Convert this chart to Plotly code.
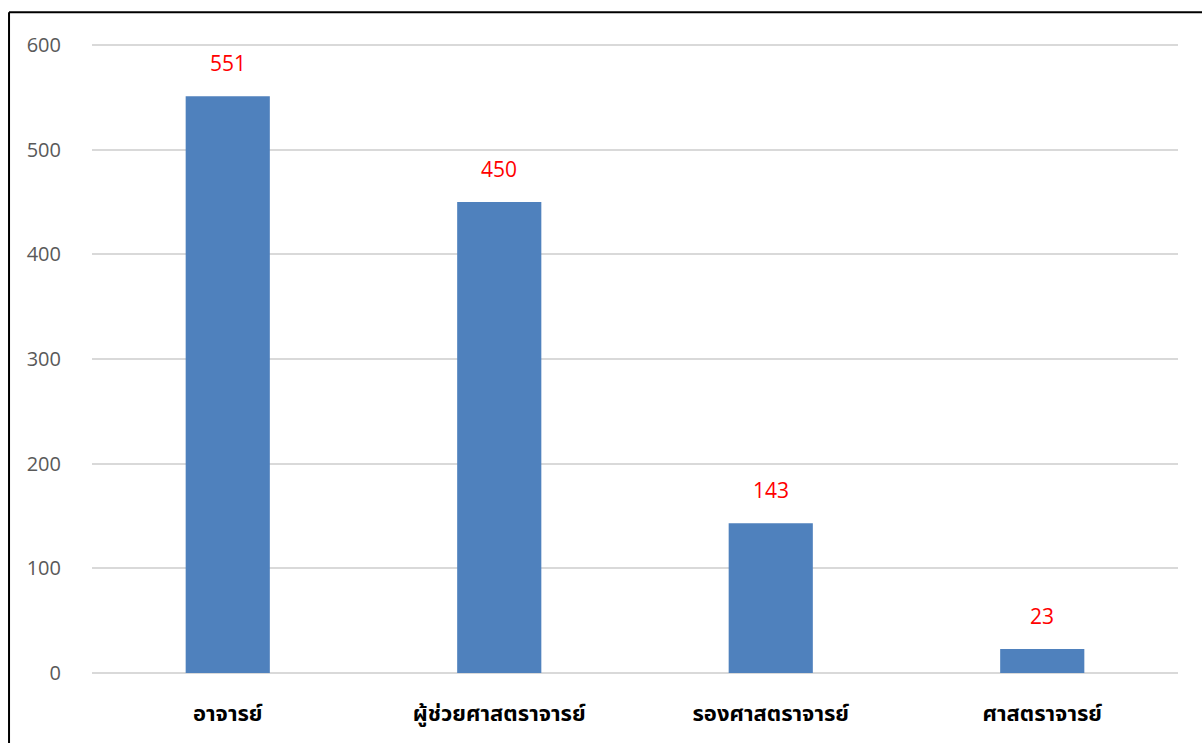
import plotly.graph_objects as go

categories = ["อาจารย์", "ผู้ช่วยศาสตราจารย์", "รองศาสตราจารย์", "ศาสตราจารย์"]
values = [551, 450, 143, 23]
y_ticks = [0, 100, 200, 300, 400, 500, 600]

fig = go.Figure()
fig.add_trace(go.Bar(x=categories, y=values, marker=dict(color="#4F81BD", line=dict(width=0)),
                     hoverinfo="skip"))

for c, v in zip(categories, values):
    fig.add_annotation(x=c, y=v, text=str(v), showarrow=False, yshift=33,
                       font=dict(color="#FF0000", size=21, family="Open Sans, sans-serif"))

# outer border (left and top edges)
fig.add_shape(type="line", xref="paper", yref="paper", x0=-0.0764, x1=-0.0764, y0=-0.12, y1=1.0505,
              line=dict(color="black", width=2))
fig.add_shape(type="line", xref="paper", yref="paper", x0=-0.0764, x1=1.05, y0=1.0505, y1=1.0505,
              line=dict(color="black", width=2))

fig.update_layout(
    width=1202, height=743,
    margin=dict(l=92, r=24, t=44, b=68),
    paper_bgcolor="white", plot_bgcolor="white",
    bargap=0.69,
    showlegend=False,
    xaxis=dict(showgrid=False, showline=False, ticks="", ticklabelstandoff=25,
               tickfont=dict(size=22, color="#000000", family="Tahoma, Noto Sans Thai, Noto Sans, sans-serif", weight="bold")),
    yaxis=dict(range=[0, 601], tickvals=y_ticks, showgrid=True, gridcolor="#D9D9D9", gridwidth=1.5,
               zeroline=True, zerolinecolor="#D9D9D9", zerolinewidth=1.5, showline=False,
               ticklabelstandoff=30,
               tickfont=dict(size=20, color="#595959", family="Open Sans, sans-serif")),
)

fig.write_html("out.html", config={"displayModeBar": False},
               post_script="document.body.style.margin='0';document.body.style.overflow='hidden';")
